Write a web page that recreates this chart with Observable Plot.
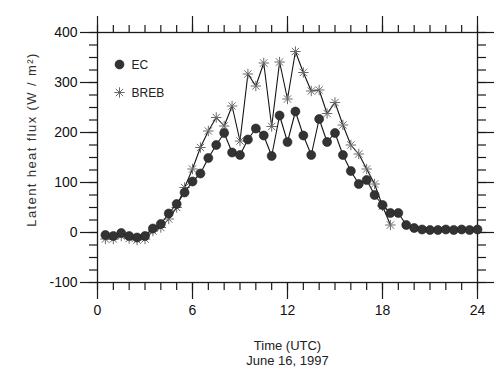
<!DOCTYPE html>
<html>
<head>
<meta charset="utf-8">
<script src="https://cdn.jsdelivr.net/npm/d3@7"></script>
<script src="https://cdn.jsdelivr.net/npm/@observablehq/plot@0.6"></script>
<style>
  html, body { margin: 0; padding: 0; background: #ffffff; }
  #chart svg { display: block; }
</style>
</head>
<body>
<div id="chart"></div>
<script>
// ---- data ----
const hours = [0.5, 1, 1.5, 2, 2.5, 3, 3.5, 4, 4.5, 5, 5.5, 6, 6.5, 7, 7.5, 8,
  8.5, 9, 9.5, 10, 10.5, 11, 11.5, 12, 12.5, 13, 13.5, 14, 14.5, 15, 15.5, 16,
  16.5, 17, 17.5, 18, 18.5, 19, 19.5, 20, 20.5, 21, 21.5, 22, 22.5, 23, 23.5, 24];
const ecFlux = [-5, -7, -1, -7, -10, -7, 8, 17, 38, 57, 80, 102, 118, 149, 175, 199,
  160, 155, 186, 208, 194, 153, 234, 181, 242, 194, 155, 227, 181, 199, 155, 123,
  97, 105, 75, 55, 39, 39, 15, 9, 6, 5, 5, 6, 5, 6, 5, 6];
const brebHours = [0.5, 1, 1.5, 2, 2.5, 3, 3.5, 4, 4.5, 5, 5.5, 6, 6.5, 7, 7.5, 8,
  8.5, 9, 9.5, 10, 10.5, 11, 11.5, 12, 12.5, 13, 13.5, 14, 14.5, 15, 15.5, 16,
  16.5, 17, 17.5, 18, 18.5];
const brebFlux = [-13, -13, -7, -12, -15, -13, 3, 10, 27, 50, 90, 127, 170, 203, 230, 213,
  253, 183, 317, 293, 339, 212, 341, 267, 362, 320, 283, 285, 238, 260, 215, 175,
  157, 127, 97, 53, 15];
const seriesNames = ["EC", "BREB"];
const xMajorTicks = [0, 6, 12, 18, 24];
const xMinorTicks = [0, 1, 2, 3, 4, 5, 6, 7, 8, 9, 10, 11, 12, 13, 14, 15, 16, 17, 18, 19, 20, 21, 22, 23, 24];
const yMajorTicks = [-100, 0, 100, 200, 300, 400];
const yMinorTicks = [-100, -75, -50, -25, 0, 25, 50, 75, 100, 125, 150, 175, 200, 225, 250, 275, 300, 325, 350, 375, 400];
const xTitle = "Time (UTC)";
const dateLabel = "June 16, 1997";
const yTitle = "Latent heat flux (W / m\u00B2)";

// ---- tables ----
const ecData = hours.map((h, i) => ({time: h, flux: ecFlux[i]}));
const brebData = brebHours.map((h, i) => ({time: h, flux: brebFlux[i]}));

// 8-spoke asterisk symbol
const asterisk = {
  draw(ctx, size) {
    const r = Math.sqrt(size / Math.PI);
    for (let k = 0; k < 4; k++) {
      const a = k * Math.PI / 4;
      const dx = r * Math.cos(a), dy = r * Math.sin(a);
      ctx.moveTo(-dx, -dy);
      ctx.lineTo(dx, dy);
    }
  }
};

const font = "'Liberation Sans', Arial, Helvetica, sans-serif";
const blank = () => "";
const plain = d => String(d);
const tickColor = "#1a1a1a";

const plot = Plot.plot({
  width: 499,
  height: 369,
  marginLeft: 97,
  marginRight: 22,
  marginTop: 32,
  marginBottom: 87,
  style: {fontFamily: font, fontSize: "14px", color: "#111", background: "#ffffff"},
  x: {domain: [0, 24]},
  y: {domain: [-100, 400]},
  marks: [
    // minor ticks, all four sides
    Plot.axisX(xMinorTicks, {anchor: "bottom", tickSize: 8, tickFormat: blank, label: null, stroke: tickColor, strokeWidth: 1.2}),
    Plot.axisX(xMinorTicks, {anchor: "top", tickSize: 8, tickFormat: blank, label: null, stroke: tickColor, strokeWidth: 1.2}),
    Plot.axisY(yMinorTicks, {anchor: "left", tickSize: 8, tickFormat: blank, label: null, stroke: tickColor, strokeWidth: 1.2}),
    Plot.axisY(yMinorTicks, {anchor: "right", tickSize: 8, tickFormat: blank, label: null, stroke: tickColor, strokeWidth: 1.2}),
    // major ticks
    Plot.axisX(xMajorTicks, {anchor: "bottom", tickSize: 17, tickPadding: 6, tickFormat: plain, label: null, fontSize: 14, stroke: tickColor, strokeWidth: 1.2}),
    Plot.axisX(xMajorTicks, {anchor: "top", tickSize: 17, tickFormat: blank, label: null, stroke: tickColor, strokeWidth: 1.2}),
    Plot.axisY(yMajorTicks, {anchor: "left", tickSize: 17, tickPadding: 3, tickFormat: plain, label: null, fontSize: 14, stroke: tickColor, strokeWidth: 1.2}),
    Plot.axisY(yMajorTicks, {anchor: "right", tickSize: 16, tickFormat: blank, label: null, stroke: tickColor, strokeWidth: 1.2}),
    Plot.frame({stroke: tickColor, strokeWidth: 1.3}),
    // BREB series
    Plot.line(brebData, {x: "time", y: "flux", stroke: "#151515", strokeWidth: 1.1}),
    Plot.dot(brebData, {x: "time", y: "flux", symbol: asterisk, r: 5.2, stroke: "#6a6a6a", strokeWidth: 1, fill: "none"}),
    // EC series
    Plot.line(ecData, {x: "time", y: "flux", stroke: "#151515", strokeWidth: 1.1}),
    Plot.dot(ecData, {x: "time", y: "flux", r: 4.5, fill: "#333333", stroke: "#222", strokeWidth: 0.6}),
    // legend
    Plot.dot([seriesNames[0]], {frameAnchor: "top-left", dx: 22, dy: 32, r: 4.5, fill: "#333333", stroke: "#222", strokeWidth: 0.6}),
    Plot.dot([seriesNames[1]], {frameAnchor: "top-left", dx: 22, dy: 60, r: 5.2, symbol: asterisk, stroke: "#6a6a6a", strokeWidth: 1, fill: "none"}),
    Plot.text([seriesNames[0]], {text: d => d, frameAnchor: "top-left", dx: 34, dy: 33, textAnchor: "start", lineAnchor: "middle", fontSize: 12, fill: "#222"}),
    Plot.text([seriesNames[1]], {text: d => d, frameAnchor: "top-left", dx: 34, dy: 61, textAnchor: "start", lineAnchor: "middle", fontSize: 12, fill: "#222"}),
    // axis titles
    Plot.text([xTitle], {text: d => d, frameAnchor: "bottom", dy: 63, lineAnchor: "middle", fontSize: 13, fill: "#222"}),
    Plot.text([dateLabel], {text: d => d, frameAnchor: "bottom", dy: 78, lineAnchor: "middle", fontSize: 13, fill: "#222"}),
    Plot.text([yTitle], {text: d => d, frameAnchor: "left", dx: -66, dy: -18, rotate: -90, textAnchor: "middle", lineAnchor: "middle", fontSize: 13, fill: "#333"})
  ]
});

// widen the y title's spacing to the length seen in the reference
d3.select(plot).selectAll("text")
  .filter(function() { return this.textContent === yTitle; })
  .style("letter-spacing", "1.4px");

document.getElementById("chart").appendChild(plot);
</script>
</body>
</html>
